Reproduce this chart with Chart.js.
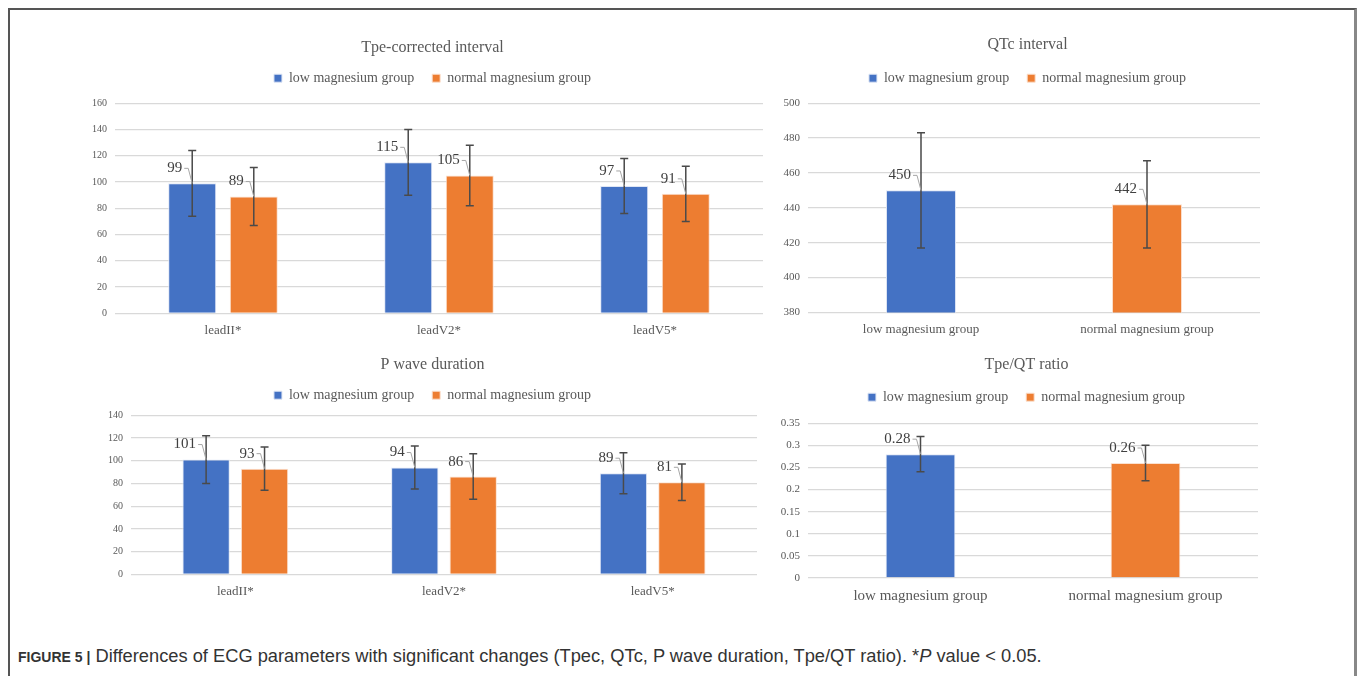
<!DOCTYPE html>
<html>
<head>
<meta charset="utf-8">
<script src="https://cdn.jsdelivr.net/npm/chart.js@4.4.1/dist/chart.umd.min.js"></script>
<style>
body { margin: 0; background: #fff; width: 1357px; height: 676px; overflow: hidden; position: relative; }
#frame { position: absolute; left: 8px; top: 8px; width: 1344px; height: 700px; border-top: 2px solid #555; border-left: 2px solid #555; border-right: 3px solid #888; }
canvas { position: absolute; }
#caption { position: absolute; left: 18px; top: 645px; font: 18.3px "Liberation Sans", Arial, sans-serif; color: #333; white-space: nowrap; }
#caption b { font-size: 14px; font-weight: bold; }
</style>
</head>
<body>
<div id="frame"></div>
<canvas id="tpec" width="704" height="318" style="left:80px;top:30px"></canvas>
<canvas id="qtc" width="544" height="320" style="left:755px;top:26px"></canvas>
<canvas id="pwave" width="704" height="255" style="left:80px;top:347px"></canvas>
<canvas id="ratio" width="544" height="265" style="left:755px;top:346px"></canvas>
<div id="caption"><b>FIGURE 5 |</b> Differences of ECG parameters with significant changes (Tpec, QTc, P wave duration, Tpe/QT ratio). *<i>P</i> value &lt; 0.05.</div>

<script>
// values
var leads = ['leadII*', 'leadV2*', 'leadV5*'];
var groups = ['low magnesium group', 'normal magnesium group'];

var tpecLow = [99, 115, 97];
var tpecLowSd = [25, 25, 21];
var tpecNormal = [89, 105, 91];
var tpecNormalSd = [22, 23, 21];

var qtcLow = [450, null];
var qtcLowSd = [33, null];
var qtcNormal = [null, 442];
var qtcNormalSd = [null, 25];

var pwaveLow = [101, 94, 89];
var pwaveLowSd = [21, 19, 18];
var pwaveNormal = [93, 86, 81];
var pwaveNormalSd = [19, 20, 16];

var ratioLow = [0.28, null];
var ratioLowSd = [0.04, null];
var ratioNormal = [null, 0.26];
var ratioNormalSd = [null, 0.04];

// min, max, step of each value axis
var tpecAxis = [0, 160, 20];
var qtcAxis = [380, 500, 20];
var pwaveAxis = [0, 140, 20];
var ratioAxis = [0, 0.35, 0.05];

var blue = '#4472C4';
var orange = '#ED7D31';
var serif = '"Liberation Serif", "Times New Roman", serif';

var errorBars = {
    id: 'errorBars',
    afterDatasetsDraw: function(chart) {
        var ctx = chart.ctx;
        var y = chart.scales.y;
        chart.data.datasets.forEach(function(ds, i) {
            var meta = chart.getDatasetMeta(i);
            meta.data.forEach(function(bar, j) {
                var v = ds.data[j];
                if (v == null) return;
                var e = ds.errors[j];
                var top = y.getPixelForValue(v + e);
                var bot = y.getPixelForValue(v - e);
                ctx.save();
                ctx.strokeStyle = '#4a4a4a';
                ctx.lineWidth = 1.5;
                ctx.beginPath();
                ctx.moveTo(bar.x, top); ctx.lineTo(bar.x, bot);
                ctx.moveTo(bar.x - 4, top); ctx.lineTo(bar.x + 4, top);
                ctx.moveTo(bar.x - 4, bot); ctx.lineTo(bar.x + 4, bot);
                ctx.stroke();
                ctx.restore();
            });
        });
    }
};

var valueLabels = {
    id: 'valueLabels',
    afterDatasetsDraw: function(chart) {
        var ctx = chart.ctx;
        chart.data.datasets.forEach(function(ds, i) {
            var meta = chart.getDatasetMeta(i);
            meta.data.forEach(function(bar, j) {
                var v = ds.data[j];
                if (v == null) return;
                var ty = bar.y - 15;
                ctx.save();
                ctx.strokeStyle = '#a6a6a6';
                ctx.lineWidth = 1;
                ctx.beginPath();
                ctx.moveTo(bar.x - 8, ty);
                ctx.lineTo(bar.x - 4, ty);
                ctx.lineTo(bar.x, bar.y);
                ctx.stroke();
                ctx.fillStyle = '#404040';
                ctx.font = '15px ' + serif;
                ctx.textAlign = 'right';
                ctx.textBaseline = 'middle';
                ctx.fillText(String(v), bar.x - 10, ty);
                ctx.restore();
            });
        });
    }
};

// extra room under the legend, and a sideways nudge of title + legend
var headerTweak = {
    id: 'headerTweak',
    beforeUpdate: function(chart, args, opts) {
        var lg = chart.legend;
        if (!lg || lg._gapPatched) return;
        var fit = lg.fit;
        lg.fit = function() {
            fit.call(this);
            this.height += opts.extra;
        };
        lg._gapPatched = true;
    },
    afterLayout: function(chart, args, opts) {
        [chart.titleBlock, chart.legend].forEach(function(b) {
            if (!b) return;
            b.left += opts.shift;
            b.right += opts.shift;
        });
    }
};

function makeChart(id, title, labels, datasets, axis, opt) {
    return new Chart(document.getElementById(id), {
        type: 'bar',
        data: { labels: labels, datasets: datasets },
        plugins: [errorBars, valueLabels, headerTweak],
        options: {
            responsive: false,
            animation: false,
            categoryPercentage: opt.cat,
            barPercentage: opt.bar,
            layout: { padding: opt.pad },
            plugins: {
                title: {
                    display: true,
                    text: title,
                    color: '#595959',
                    font: { family: serif, size: 16, weight: 'normal' },
                    padding: { top: 8, bottom: opt.titleBottom }
                },
                legend: {
                    labels: {
                        color: '#595959',
                        font: { family: serif, size: 14 },
                        boxWidth: 8,
                        boxHeight: 8,
                        padding: 18
                    }
                },
                headerTweak: { extra: opt.gap, shift: opt.shift },
                tooltip: { enabled: false }
            },
            scales: {
                x: {
                    grid: { display: false },
                    border: { display: false },
                    ticks: { color: '#595959', font: { family: serif, size: opt.xFont }, padding: 1 }
                },
                y: {
                    min: axis[0],
                    max: axis[1],
                    afterFit: function(s) { s.width = opt.yWidth; },
                    grid: { color: '#d9d9d9', lineWidth: 1.3, drawTicks: false },
                    border: { display: false },
                    ticks: {
                        stepSize: axis[2],
                        color: '#595959',
                        padding: 8,
                        font: { family: serif, size: opt.yFont },
                        callback: function(v) { return String(+v.toFixed(2)); }
                    }
                }
            }
        }
    });
}

function pair(low, lowSd, normal, normalSd, skip) {
    return [
        { label: groups[0], data: low, errors: lowSd, backgroundColor: blue, borderColor: '#dfe6f5', borderWidth: 1, skipNull: skip },
        { label: groups[1], data: normal, errors: normalSd, backgroundColor: orange, borderColor: '#fbe1d0', borderWidth: 1, skipNull: skip }
    ];
}

makeChart('tpec', 'Tpe-corrected interval', leads,
    pair(tpecLow, tpecLowSd, tpecNormal, tpecNormalSd, false), tpecAxis,
    { cat: 0.57, bar: 0.78, pad: { left: 0, right: 21, top: 0, bottom: 9 }, titleBottom: -4, gap: 8, shift: 11, yWidth: 35, yFont: 10, xFont: 13 });

makeChart('qtc', 'QTc interval', groups,
    pair(qtcLow, qtcLowSd, qtcNormal, qtcNormalSd, true), qtcAxis,
    { cat: 0.62, bar: 0.5, pad: { left: 0, right: 39, top: 1, bottom: 8 }, titleBottom: -1, gap: 8, shift: 20, yWidth: 53, yFont: 11, xFont: 13 });

makeChart('pwave', 'P wave duration', leads,
    pair(pwaveLow, pwaveLowSd, pwaveNormal, pwaveNormalSd, false), pwaveAxis,
    { cat: 0.56, bar: 0.81, pad: { left: 0, right: 27, top: 0, bottom: 2 }, titleBottom: -4, gap: 3, shift: 14, yWidth: 51, yFont: 10, xFont: 13 });

makeChart('ratio', 'Tpe/QT ratio', groups,
    pair(ratioLow, ratioLowSd, ratioNormal, ratioNormalSd, true), ratioAxis,
    { cat: 0.62, bar: 0.5, pad: { left: 0, right: 41, top: 1, bottom: 5 }, titleBottom: -2, gap: 9, shift: 20, yWidth: 53, yFont: 11, xFont: 15 });
</script>
</body>
</html>
